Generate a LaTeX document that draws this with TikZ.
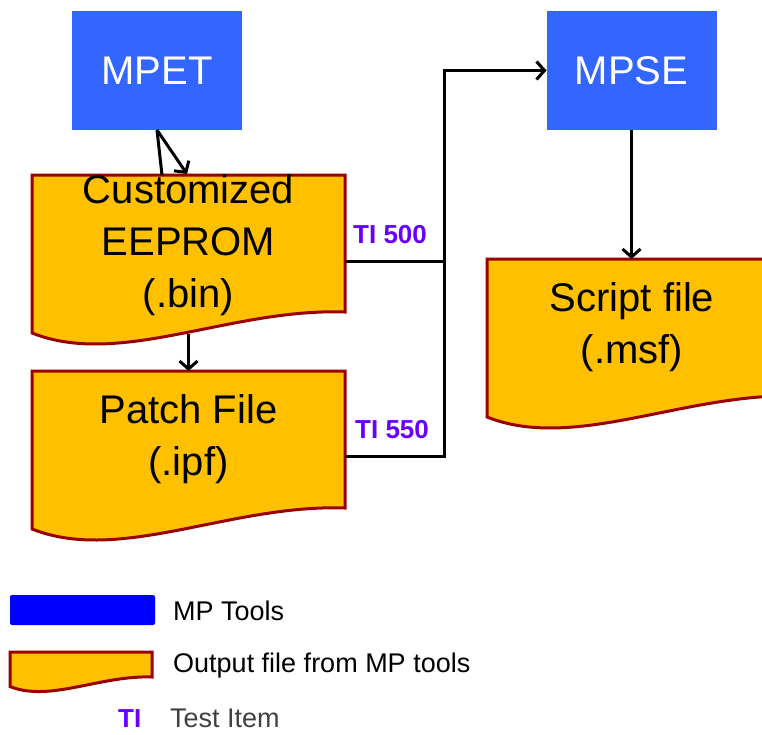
\documentclass[tikz,border=0pt]{standalone}
\usepackage{fontspec}
\setmainfont{Liberation Sans}
\usetikzlibrary{arrows.meta,backgrounds,calc}

\definecolor{toolblue}{RGB}{51,102,255}
\definecolor{legblue}{RGB}{0,0,255}
\definecolor{fileorange}{RGB}{255,192,0}
\definecolor{fileedge}{RGB}{153,0,0}
\definecolor{tipurple}{RGB}{102,0,255}
\definecolor{greytext}{RGB}{64,64,64}

\tikzset{
  tool/.style={fill=toolblue, text=white, minimum width=170pt, minimum height=119pt,
    inner sep=0pt, outer sep=0pt, font=\fontsize{40}{48}\selectfont},
  filearea/.style={anchor=north west, minimum width=313pt, minimum height=137pt,
    inner sep=0pt, outer sep=0pt, align=center, font=\fontsize{40}{52}\selectfont},
  docfill/.style={fill=fileorange, draw=fileedge, line width=3pt, line join=miter},
  link/.style={draw=black, line width=3pt},
  arr/.style={link, -{Straight Barb[length=8pt,width=18pt]}},
  tilabel/.style={anchor=base west, text=tipurple, inner sep=0pt,
    font=\fontsize{26}{30}\selectfont\bfseries},
  legtext/.style={anchor=base west, inner sep=0pt, font=\fontsize{27}{32}\selectfont}
}

% document outline with wavy bottom: node name, outline width, height to right foot
\newcommand{\filedoc}[3]{%
  \path[docfill] (#1.north west) -- ++(#2,0) -- ++(0,#3)
    .. controls +(-0.367*#2,-0.013*#2) and +(0.281*#2,0.112*#2) ..
    ($(#1.north west)+(0,#3+0.067*#2)$) -- cycle;}

\begin{document}
\begin{tikzpicture}[x=1pt,y=-1pt]
\useasboundingbox (0,0) rectangle (762,734);
\clip (0,0) rectangle (762,734);

% tools
\node[tool] (mpet) at (157,70.5) {MPET};
\node[tool] (mpse) at (631.5,70.5) {MPSE};

% output files
\node[filearea] (cust) at (32,175) {Customized\\EEPROM\\(.bin)};
\node[filearea] (patch) at (32,371) {Patch File\\(.ipf)};
\node[filearea, minimum width=290pt] (script) at (487,259) {Script file\\(.msf)};

% legend
\node[fill=legblue, rounded corners=2pt, minimum width=145pt, minimum height=30pt,
  anchor=north west, inner sep=0pt, outer sep=0pt] (legtool) at (10,595) {};
\node[legtext] (legtooltext) at (173,620) {MP Tools};
\node[anchor=north west, minimum width=142pt, minimum height=25pt,
  inner sep=0pt, outer sep=0pt] (legfile) at (10,652) {};
\node[legtext] (legfiletext) at (173,672) {Output file from MP tools};
\node[tilabel] (legti) at (118,727) {TI};
\node[legtext, text=greytext] (legtitext) at (170,727) {Test Item};

\begin{scope}[on background layer]
  \clip (0,0) rectangle (762,734);
  \filedoc{cust}{313}{137}
  \filedoc{patch}{313}{137}
  \filedoc{script}{313}{137}
  \filedoc{legfile}{142}{25}
\end{scope}

% connectors
\coordinate (mpetfoot) at (162,175);
\coordinate (mpettip) at (187,174);
\draw[link] (mpet.south) -- (mpetfoot);
\draw[arr] (mpet.south) -- (mpettip);

\coordinate (custfoot) at (188.5,334);
\draw[arr] (custfoot) -- (patch.north);

\coordinate (j1) at (444,261);
\coordinate (j2) at (444,456);
\draw[link] (j1 -| cust.east) -- (j1);
\draw[arr] (j2 -| patch.east) -- (j2) -- (j2 |- mpse.west) -- (mpse.west);
\node[tilabel] (ti500) at (353,243) {TI 500};
\node[tilabel] (ti550) at (355,438) {TI 550};

\draw[arr] (mpse.south) -- (mpse.south |- script.north);
\end{tikzpicture}
\end{document}
